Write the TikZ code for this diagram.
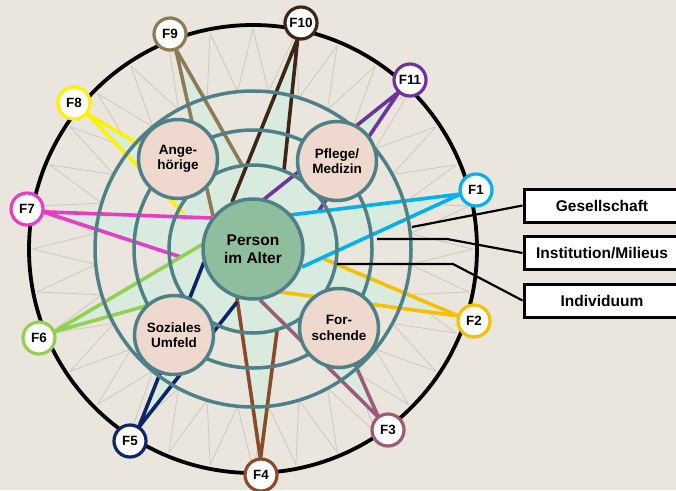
\documentclass[tikz,border=0pt]{standalone}
\usepackage{fontspec}
\setmainfont{Liberation Sans}
\usetikzlibrary{calc}
\definecolor{bgbeige}{HTML}{EAE6DD}
\definecolor{wedgefill}{HTML}{D9EADF}
\definecolor{ringteal}{HTML}{4E8088}
\definecolor{groupfill}{HTML}{EFD8CE}
\definecolor{personfill}{HTML}{8EBE9D}
\definecolor{ziggray}{HTML}{CBC9C2}
\definecolor{cF1}{HTML}{00B0F0}
\definecolor{cF2}{HTML}{F5C000}
\definecolor{cF3}{HTML}{9C5B78}
\definecolor{cF4}{HTML}{8C4A28}
\definecolor{cF5}{HTML}{0B2566}
\definecolor{cF6}{HTML}{92D050}
\definecolor{cF7}{HTML}{E83CC4}
\definecolor{cF8}{HTML}{FFF200}
\definecolor{cF9}{HTML}{8E7B56}
\definecolor{cF10}{HTML}{3F2516}
\definecolor{cF11}{HTML}{7030A0}

\begin{document}
\begin{tikzpicture}[x=1pt,y=-1pt,
  fnode/.style={circle,draw=#1,line width=3.2pt,fill=white,minimum size=32pt,inner sep=0pt,
    font=\fontsize{13.4}{15}\selectfont\bfseries},
  group/.style={circle,draw=ringteal,line width=3.5pt,fill=groupfill,minimum size=79pt,inner sep=0pt,
    align=center,font=\fontsize{13.5}{15.5}\selectfont\bfseries},
  person/.style={circle,draw=ringteal,line width=3.5pt,fill=personfill,minimum size=100pt,inner sep=0pt,
    align=center,font=\fontsize{15.5}{18.5}\selectfont\bfseries},
  legbox/.style={draw=black,line width=3pt,fill=white,minimum width=156pt,minimum height=33pt,
    font=\fontsize{15.5}{18}\selectfont\bfseries},
  ring/.style={draw=ringteal,line width=3.5pt},
  leader/.style={draw=black,line width=2.2pt},
  zig/.style={draw=ziggray,line width=0.8pt}]
  \useasboundingbox (0,0) rectangle (676,490);
  \clip (0,0) rectangle (676,490);
  \fill[bgbeige] (0,0) rectangle (676,490);

  \coordinate (ctr) at (253,249);
  % zigzag between outer ring and black circle
  \begin{scope}[shift={(ctr)}]
    \foreach \k in {0,...,31}
      \draw[zig] (90+\k*11.25:220) -- (95.625+\k*11.25:158) -- (101.25+\k*11.25:220);
  \end{scope}

  % F positions and wedge ends
  \coordinate (p1) at (476,190);  \coordinate (ea1) at (290,215);  \coordinate (eb1) at (302,267);
  \coordinate (p2) at (474,321);  \coordinate (ea2) at (322,258);  \coordinate (eb2) at (280,292);
  \coordinate (p3) at (388,430);  \coordinate (ea3) at (260,300);  \coordinate (eb3) at (339,328);
  \coordinate (p4) at (261,475);  \coordinate (ea4) at (237,298);  \coordinate (eb4) at (277,331);
  \coordinate (p5) at (130,441);  \coordinate (ea5) at (204,262);  \coordinate (eb5) at (237,302);
  \coordinate (p6) at (39,338);   \coordinate (ea6) at (203,244);  \coordinate (eb6) at (160,302);
  \coordinate (p7) at (27,209);   \coordinate (ea7) at (212,218);  \coordinate (eb7) at (181,257);
  \coordinate (p8) at (74,103);   \coordinate (ea8) at (150,151);  \coordinate (eb8) at (183,213);
  \coordinate (p9) at (170,34);   \coordinate (ea9) at (213,216);  \coordinate (eb9) at (242,165);
  \coordinate (p10) at (301,23);  \coordinate (ea10) at (232,202); \coordinate (eb10) at (284,170);
  \coordinate (p11) at (410,80);  \coordinate (ea11) at (263,200); \coordinate (eb11) at (318,212);
  \foreach \i in {1,...,11}
    \coordinate (ap\i) at ($(p\i)!16pt!(ctr)$);

  % light green star
  \fill[wedgefill] (ctr) circle[radius=84];
  \foreach \i in {1,...,11}
    \fill[wedgefill] (ap\i) -- (ea\i) -- (eb\i) -- cycle;
  \foreach \i in {11,2,1,7,6,3,4,5,8,9,10}
    \draw[cF\i,line width=3.6pt,line join=round] (ea\i) -- (ap\i) -- (eb\i);

  % rings
  \draw[ring] (ctr) circle[radius=84];
  \draw[ring] (ctr) circle[radius=119];
  \draw[ring] (ctr) circle[radius=158];
  \draw[black,line width=3.8pt] (ctr) circle[radius=224];

  % legend
  \node[legbox] (ges) at (602,205.5) {Gesellschaft};
  \node[legbox] (inst) at (602,253) {Institution/Milieus};
  \node[legbox] (indiv) at (602,300.5) {Individuum};
  \coordinate (gesend) at (412,227);
  \coordinate (instend) at (377,239);
  \coordinate (indend) at (337,264);
  \draw[leader] (ges.west) -- (gesend);
  \draw[leader] (inst.west) -- (447,239) -- (instend);
  \draw[leader] (indiv.west) -- (453,264) -- (indend);

  % groups
  \node[group] (ang) at (178,159) {Ange-\\hörige};
  \node[group] (pfl) at (337,161) {Pflege/\\Medizin};
  \node[group] (soz) at (174,335) {Soziales\\Umfeld};
  \node[group] (fors) at (339,328) {For-\\schende};
  \node[person] (pers) at (ctr) {Person\\im Alter};

  % F nodes
  \foreach \i in {1,...,11}
    \node[fnode=cF\i] (f\i) at (p\i) {F\i};
\end{tikzpicture}
\end{document}
